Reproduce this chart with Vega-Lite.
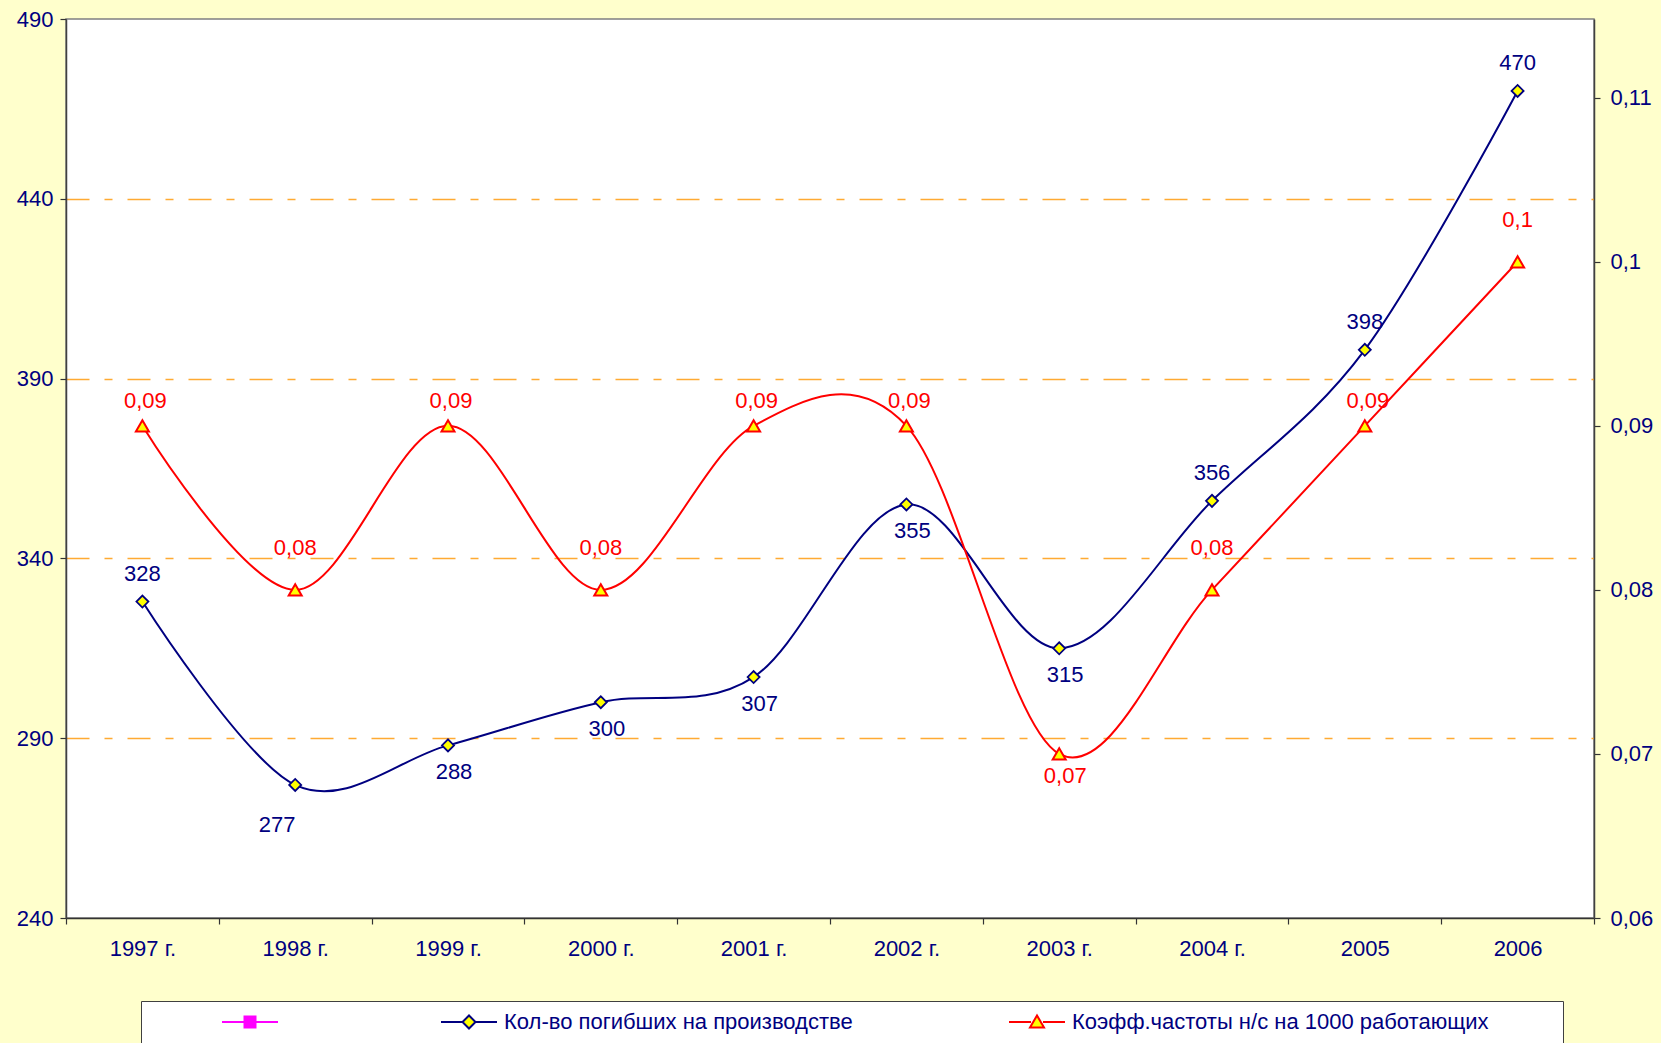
{
  "$schema": "https://vega.github.io/schema/vega-lite/v6.json",
  "autosize": {"type": "none"},
  "width": 1528,
  "height": 899,
  "padding": {"left": 66, "top": 19, "right": 67, "bottom": 125},
  "background": "#FFFFCC",
  "config": {
    "font": "Liberation Sans",
    "locale": {"number": {"decimal": ",", "thousands": " ", "grouping": [3], "currency": ["", " ₽"]}},
    "view": {"stroke": "#808080", "strokeWidth": 1.5, "fill": "#FFFFFF"}
  },
  "data": {
    "values": [
      {"year": "1997 г.", "series": "Кол-во погибших на производстве", "value": 328},
      {"year": "1998 г.", "series": "Кол-во погибших на производстве", "value": 277},
      {"year": "1999 г.", "series": "Кол-во погибших на производстве", "value": 288},
      {"year": "2000 г.", "series": "Кол-во погибших на производстве", "value": 300},
      {"year": "2001 г.", "series": "Кол-во погибших на производстве", "value": 307},
      {"year": "2002 г.", "series": "Кол-во погибших на производстве", "value": 355},
      {"year": "2003 г.", "series": "Кол-во погибших на производстве", "value": 315},
      {"year": "2004 г.", "series": "Кол-во погибших на производстве", "value": 356},
      {"year": "2005", "series": "Кол-во погибших на производстве", "value": 398},
      {"year": "2006", "series": "Кол-во погибших на производстве", "value": 470},
      {"year": "1997 г.", "series": "Коэфф.частоты н/с на 1000 работающих", "value": 0.09},
      {"year": "1998 г.", "series": "Коэфф.частоты н/с на 1000 работающих", "value": 0.08},
      {"year": "1999 г.", "series": "Коэфф.частоты н/с на 1000 работающих", "value": 0.09},
      {"year": "2000 г.", "series": "Коэфф.частоты н/с на 1000 работающих", "value": 0.08},
      {"year": "2001 г.", "series": "Коэфф.частоты н/с на 1000 работающих", "value": 0.09},
      {"year": "2002 г.", "series": "Коэфф.частоты н/с на 1000 работающих", "value": 0.09},
      {"year": "2003 г.", "series": "Коэфф.частоты н/с на 1000 работающих", "value": 0.07},
      {"year": "2004 г.", "series": "Коэфф.частоты н/с на 1000 работающих", "value": 0.08},
      {"year": "2005", "series": "Коэфф.частоты н/с на 1000 работающих", "value": 0.09},
      {"year": "2006", "series": "Коэфф.частоты н/с на 1000 работающих", "value": 0.1}
    ]
  },
  "encoding": {
    "x": {
      "field": "year", "type": "nominal", "sort": null, "bandPosition": 0.5,
      "scale": {"type": "band", "paddingInner": 0, "paddingOuter": 0},
      "axis": {
        "title": null, "labelAngle": 0, "labelFontSize": 22, "labelColor": "#000080",
        "tickBand": "extent", "tickSize": 6, "tickColor": "#333333", "tickWidth": 1.2,
        "domainColor": "#333333", "domainWidth": 1.5, "labelPadding": 14, "grid": false
      }
    }
  },
  "layer": [
    {
      "transform": [{"filter": {"field": "series", "equal": "Кол-во погибших на производстве"}}],
      "encoding": {
        "y": {
          "field": "value", "type": "quantitative",
          "scale": {"domain": [240, 490], "nice": false, "zero": false},
          "axis": {
            "orient": "left", "title": null, "values": [240, 290, 340, 390, 440, 490],
            "labelFontSize": 22, "labelColor": "#000080", "tickSize": 6, "tickColor": "#333333", "tickWidth": 1.2,
            "domainColor": "#404040", "domainWidth": 1.5, "labelPadding": 7,
            "grid": true, "gridColor": "#FFAA33", "gridWidth": 1.5, "gridDash": [23, 15, 8, 15],
            "gridOpacity": {"condition": {"test": "datum.value == 240 || datum.value == 490", "value": 0}, "value": 1}
          }
        }
      },
      "layer": [
        {
          "mark": {"type": "line", "interpolate": "cardinal", "tension": 0, "strokeWidth": 2},
          "encoding": {
            "stroke": {
              "field": "series", "type": "nominal",
              "scale": {"domain": ["ряд1", "Кол-во погибших на производстве", "Коэфф.частоты н/с на 1000 работающих"], "range": ["#FF00FF", "#000080", "#FF0000"]},
              "legend": {
                "orient": "none", "legendX": 75, "legendY": 982, "direction": "horizontal",
                "title": "\u00a0", "titleOrient": "left", "titlePadding": 88, "titleFontSize": 21,
                "fillColor": "#FFFFFF", "strokeColor": "#404040", "padding": 10,
                "labelFontSize": 22, "labelColor": "#000080", "labelOffset": 24, "columnPadding": 152, "labelLimit": 1000,
                "symbolSize": 400, "symbolStrokeWidth": 2,
                "labelExpr": "datum.label == 'ряд1' ? '' : (datum.label == 'Коэфф.частоты н/с на 1000 работающих' ? datum.label + '\u2800\u2800\u2800\u2800' : datum.label)",
                "encoding": {
                  "symbols": {
                    "shape": {
                      "condition": [
                        {"test": "datum.value == 'ряд1'", "value": "M-2.8,0H-0.55M0.55,0H2.8M-0.55,-0.55H0.55V0.55H-0.55Z"},
                        {"test": "datum.value == 'Кол-во погибших на производстве'", "value": "M-2.8,0H-0.65M0.65,0H2.8M-0.65,0L0,-0.65L0.65,0L0,0.65Z"}
                      ],
                      "value": "M-2.8,0H-0.6M0.6,0H2.8M0,-0.65L0.7,0.55L-0.7,0.55Z"
                    },
                    "fill": {"condition": {"test": "datum.value == 'ряд1'", "value": "#FF00FF"}, "value": "#FFFF00"},
                    "opacity": {"value": 1}
                  }
                }
              }
            }
          }
        },
        {
          "mark": {"type": "point", "shape": "diamond", "size": 144, "filled": true, "fill": "#FFFF00", "stroke": "#000080", "strokeWidth": 1.8, "opacity": 1}
        },
        {
          "transform": [{"filter": {"field": "year", "oneOf": ["1997 г.", "2004 г.", "2005", "2006"]}}],
          "mark": {"type": "text", "fontSize": 22, "color": "#000080", "dy": -28},
          "encoding": {"text": {"field": "value", "type": "quantitative", "format": "d"}}
        },
        {
          "transform": [{"filter": {"field": "year", "oneOf": ["1999 г.", "2000 г.", "2001 г.", "2002 г.", "2003 г."]}}],
          "mark": {"type": "text", "fontSize": 22, "color": "#000080", "dy": 27, "dx": 6},
          "encoding": {"text": {"field": "value", "type": "quantitative", "format": "d"}}
        },
        {
          "transform": [{"filter": {"field": "year", "oneOf": ["1998 г."]}}],
          "mark": {"type": "text", "fontSize": 22, "color": "#000080", "dy": 40, "dx": -18},
          "encoding": {"text": {"field": "value", "type": "quantitative", "format": "d"}}
        }
      ]
    },
    {
      "transform": [{"filter": {"field": "series", "equal": "Коэфф.частоты н/с на 1000 работающих"}}],
      "encoding": {
        "y": {
          "field": "value", "type": "quantitative",
          "scale": {"domain": [0.06, 0.1148], "nice": false, "zero": false},
          "axis": {
            "orient": "right", "title": null, "values": [0.06, 0.07, 0.08, 0.09, 0.1, 0.11], "format": ".2~f",
            "labelFontSize": 22, "labelColor": "#000080", "tickSize": 6, "tickColor": "#333333", "tickWidth": 1.2,
            "domainColor": "#404040", "domainWidth": 1.5, "labelPadding": 10, "grid": false
          }
        }
      },
      "layer": [
        {
          "mark": {"type": "line", "interpolate": "cardinal", "tension": 0, "strokeWidth": 2},
          "encoding": {
            "stroke": {
              "field": "series", "type": "nominal",
              "scale": {"domain": ["ряд1", "Кол-во погибших на производстве", "Коэфф.частоты н/с на 1000 работающих"], "range": ["#FF00FF", "#000080", "#FF0000"]}
            }
          }
        },
        {
          "mark": {"type": "point", "shape": "triangle-up", "size": 169, "filled": true, "fill": "#FFFF00", "stroke": "#FF0000", "strokeWidth": 2, "opacity": 1}
        },
        {
          "transform": [{"filter": {"field": "year", "oneOf": ["1997 г.", "1999 г.", "2001 г.", "2002 г.", "2005"]}}],
          "mark": {"type": "text", "fontSize": 22, "color": "#FF0000", "dy": -25, "dx": 3},
          "encoding": {"text": {"field": "value", "type": "quantitative", "format": ".2~f"}}
        },
        {
          "transform": [{"filter": {"field": "year", "oneOf": ["1998 г.", "2000 г.", "2004 г.", "2006"]}}],
          "mark": {"type": "text", "fontSize": 22, "color": "#FF0000", "dy": -42},
          "encoding": {"text": {"field": "value", "type": "quantitative", "format": ".2~f"}}
        },
        {
          "transform": [{"filter": {"field": "year", "oneOf": ["2003 г."]}}],
          "mark": {"type": "text", "fontSize": 22, "color": "#FF0000", "dy": 22, "dx": 6},
          "encoding": {"text": {"field": "value", "type": "quantitative", "format": ".2~f"}}
        }
      ]
    }
  ],
  "resolve": {"scale": {"y": "independent"}}
}
